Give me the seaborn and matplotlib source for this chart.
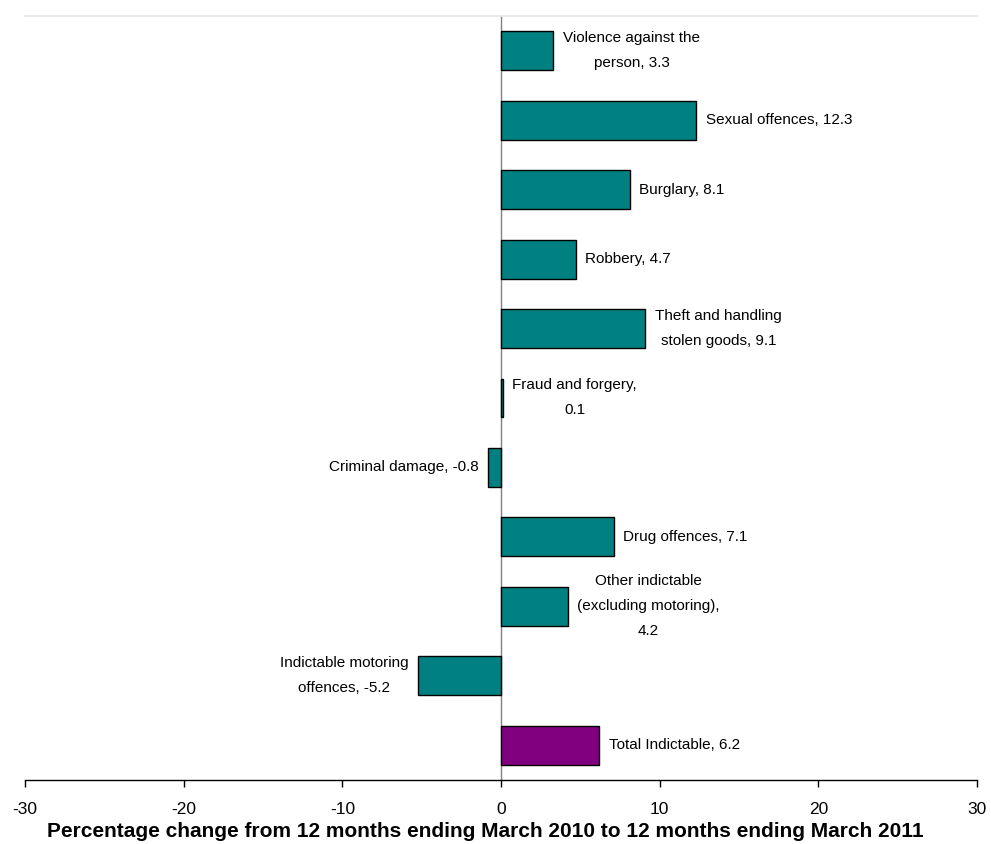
import matplotlib
matplotlib.use("Agg")
import matplotlib.pyplot as plt
import seaborn as sns

# ---- data ----
categories = [
    "Violence against the person",
    "Sexual offences",
    "Burglary",
    "Robbery",
    "Theft and handling stolen goods",
    "Fraud and forgery",
    "Criminal damage",
    "Drug offences",
    "Other indictable (excluding motoring)",
    "Indictable motoring offences",
    "Total Indictable",
]
pct_change = [3.3, 12.3, 8.1, 4.7, 9.1, 0.1, -0.8, 7.1, 4.2, -5.2, 6.2]
bar_labels = [
    "Violence against the\nperson, 3.3",
    "Sexual offences, 12.3",
    "Burglary, 8.1",
    "Robbery, 4.7",
    "Theft and handling\nstolen goods, 9.1",
    "Fraud and forgery,\n0.1",
    "Criminal damage, -0.8",
    "Drug offences, 7.1",
    "Other indictable\n(excluding motoring),\n4.2",
    "Indictable motoring\noffences, -5.2",
    "Total Indictable, 6.2",
]
bar_colors = ["#008080"] * 10 + ["#800080"]
x_ticks = [-30, -20, -10, 0, 10, 20, 30]
x_title = "Percentage change from 12 months ending March 2010 to 12 months ending March 2011"

sns.set_theme(style="white")
plt.rcParams["font.family"] = ["Liberation Sans", "DejaVu Sans"]
plt.rcParams["text.color"] = "black"

fig = plt.figure(figsize=(9.91, 8.44), dpi=100)
ax = fig.add_axes([25 / 991, 64 / 844, 952 / 991, 764 / 844])

sns.barplot(
    x=pct_change,
    y=categories,
    hue=categories,
    palette=bar_colors,
    legend=False,
    orient="h",
    width=0.56,
    edgecolor="black",
    linewidth=1,
    saturation=1,
    ax=ax,
)

ax.set_xlim(-30, 30)
ax.set_ylim(len(categories) - 0.5, -0.5)
ax.set_xticks(x_ticks)
ax.set_xticklabels([str(t) for t in x_ticks], fontsize=12.5, color="black")
ax.set_yticks([])
ax.set_ylabel("")
ax.set_xlabel(x_title, fontsize=15, fontweight="bold", color="black")
ax.xaxis.set_label_coords(0.484, -0.055)

for side in ["left", "right"]:
    ax.spines[side].set_visible(False)
ax.spines["top"].set_color("#e6e6e6")
ax.spines["top"].set_linewidth(1.2)
ax.spines["bottom"].set_color("black")
ax.spines["bottom"].set_linewidth(1)
ax.tick_params(axis="x", direction="out", length=5, width=1, color="black", pad=11, bottom=True)

ax.axvline(0, color="#808080", lw=1, zorder=0)

for i, (v, lab) in enumerate(zip(pct_change, bar_labels)):
    off = 7 if v >= 0 else -7
    ax.annotate(
        lab,
        xy=(v, i),
        xytext=(off, 0),
        textcoords="offset points",
        ha="left" if v >= 0 else "right",
        va="center",
        multialignment="center",
        fontsize=11,
        color="black",
        linespacing=2.0,
    )

fig.savefig("out.png", dpi=100)
